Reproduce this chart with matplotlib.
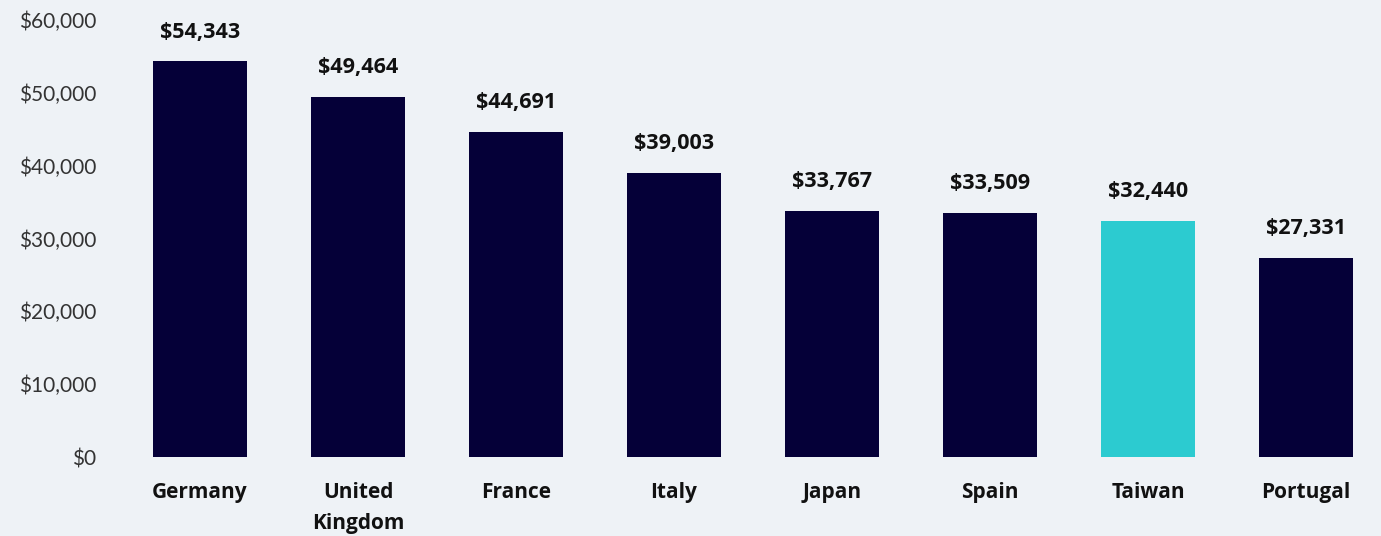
from matplotlib import pyplot as plt
from matplotlib.ticker import FuncFormatter
import numpy as np

##-----------------------------------------------------------------------------

countries = ["Germany", "United\nKingdom", "France", "Italy", "Japan", "Spain", "Taiwan", "Portugal"]
values    = [54343, 49464, 44691, 39003, 33767, 33509, 32440, 27331]
highlight = "Taiwan"

navy = "#050038"
teal = "#2ccbd0"
bg   = "#eef2f6"

##-----------------------------------------------------------------------------

plt.rcParams['font.family'] = ['Lato', 'DejaVu Sans']
bold_font = ['Open Sans', 'DejaVu Sans']

fig = plt.figure(figsize=(13.81, 5.36), dpi=100, facecolor=bg)
W, H = 1381, 536
ax = fig.add_axes([121/W, 79/H, (W - 121)/W, 437/H])
ax.set_facecolor(bg)

x = np.arange(len(countries))
colors = [teal if c == highlight else navy for c in countries]
ax.bar(x, values, width=0.59, color=colors)

for xi, v in zip(x, values):
    ax.annotate("${:,}".format(v), (xi, v), xytext=(0, 21), textcoords="offset points",
                ha="center", va="center", fontsize=15.5, fontweight="bold", color="#111111",
                family=bold_font)

ax.set_xlim(-0.5, (W - 121)/158 - 0.5)
ax.set_ylim(0, 60000)
ax.set_yticks(np.arange(0, 60001, 10000))
ax.yaxis.set_major_formatter(FuncFormatter(lambda v, p: "${:,.0f}".format(v)))
ax.set_xticks(x)
ax.set_xticklabels(countries, fontsize=15, fontweight="bold", color="#111111", linespacing=1.65,
                   family=bold_font)

ax.tick_params(axis="y", length=0, labelsize=15, labelcolor="#333333", pad=18)
ax.tick_params(axis="x", length=0, pad=18)
for s in ax.spines.values():
    s.set_visible(False)

plt.savefig("out.png", dpi=100, facecolor=bg)
